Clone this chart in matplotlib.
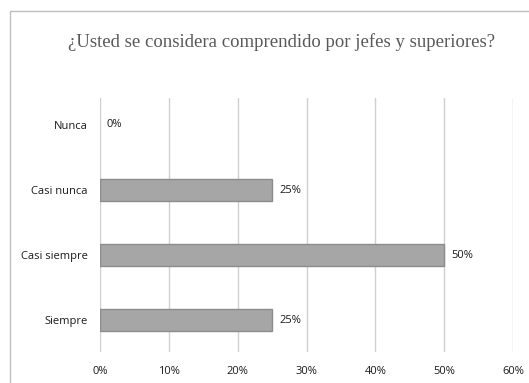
import matplotlib.pyplot as plt
from matplotlib.patches import Rectangle

# data
categorias = ["Siempre", "Casi siempre", "Casi nunca", "Nunca"]
valores = [25, 50, 25, 0]
ticks_x = [0, 10, 20, 30, 40, 50, 60]

W, H = 529, 383
dpi = 100
fig = plt.figure(figsize=(W / dpi, H / dpi), dpi=dpi)

# chart frame (cropped on right/bottom)
fig.patches.append(Rectangle((10 / W, -0.1), 1.2, (H - 11) / H + 0.1,
                             transform=fig.transFigure, fill=False,
                             edgecolor="#bfbfbf", linewidth=1.0))

ax = fig.add_axes([100 / W, 1 - 352 / H, (513 - 100) / W, (352 - 98) / H])
y = range(len(categorias))
ax.barh(y, valores, height=0.34, color="#a6a6a6",
        edgecolor=["#8c8c8c" if v > 0 else "none" for v in valores],
        linewidth=1.0, zorder=3)
for yi, v in zip(y, valores):
    ax.text(v + 1.0, yi, f"{v}%", va="center", ha="left", fontsize=8,
            family="Open Sans", color="#1a1a1a")

ax.set_xlim(0, 60)
ax.set_ylim(-0.49, 3.415)
ax.set_xticks(ticks_x)
ax.set_xticklabels([f"{t}%" for t in ticks_x], family="Open Sans", fontsize=8, color="#1a1a1a")
ax.set_yticks(list(y))
ax.set_yticklabels(categorias, family="Open Sans", fontsize=8, color="#1a1a1a")
ax.tick_params(length=0, pad=9, axis="y")
ax.tick_params(length=0, pad=10, axis="x")
ax.grid(axis="x", color="#d0d0d0", linewidth=1.0, zorder=0)
for s in ax.spines.values():
    s.set_visible(False)

fig.text(282 / W, 1 - 42 / H, "¿Usted se considera comprendido por jefes y superiores?",
         ha="center", va="center", family="Liberation Serif", fontsize=13.5, color="#595959")

fig.savefig("out.png", dpi=dpi)
